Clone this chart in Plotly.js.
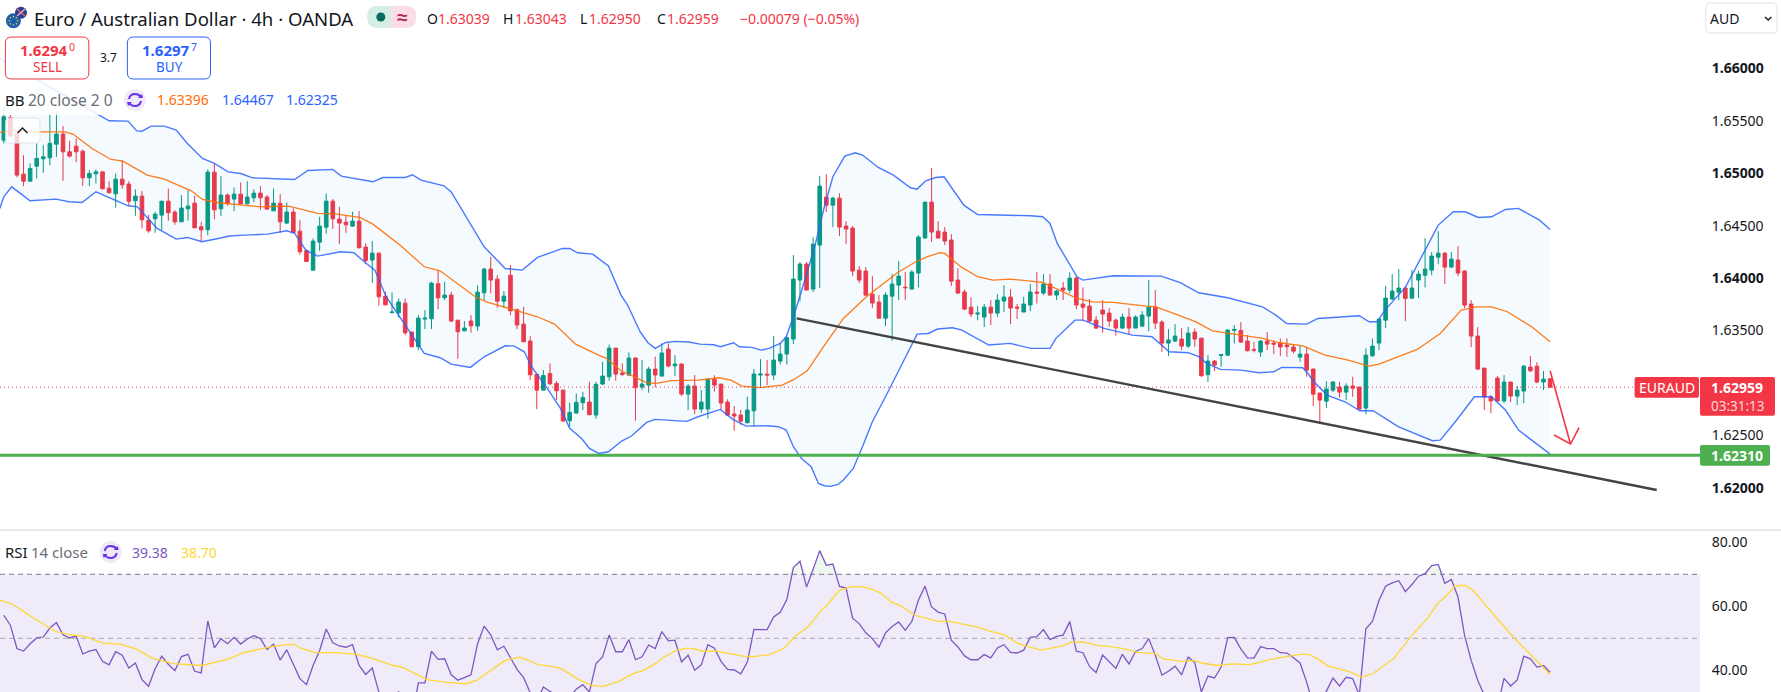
<!DOCTYPE html>
<html><head><meta charset="utf-8">
<script src="https://cdn.plot.ly/plotly-3.0.1.min.js"></script>
<style>html,body{margin:0;padding:0;background:#fff}#c{width:1781px;height:692px}</style>
</head><body><div id="c"></div>
<script>
// prices below are in 1e-5 units (165316 = 1.65316)
const opens=[165316,165533,165380,164992,164925,165068,165138,165148,165278,165374,
165205,165259,165211,164957,164995,165014,164858,164804,164944,164897,
164738,164782,164553,164566,164601,164734,164630,164537,164661,164715,
164490,164461,165011,164661,164792,164754,164801,164709,164766,164811,
164773,164642,164715,164525,164630,164448,164261,164076,164343,164486,
164734,164563,164534,164496,164544,164296,164172,164238,163828,163669,
163669,163761,163485,163345,163609,163612,163946,163812,163838,163599,
163497,163590,163542,163860,164086,163990,163780,164028,163698,163561,
163399,163081,162931,163090,162995,162931,162639,162712,162811,162817,162693,
162989,163059,163332,163094,163075,163237,162960,162979,163132,
163065,163323,163164,163180,162893,162970,162750,162750,163036,162989,
162817,162703,162693,162620,162734,163075,163084,163075,163208,163275,
163418,163981,164134,163895,164315,164773,164696,164763,164496,164477,
164076,164067,163847,163771,163618,163828,163933,163914,163895,164048,
164382,164725,164448,164439,164363,163981,163867,163723,163657,163628,
163723,163666,163781,163819,163723,163676,163743,163867,163857,163943,
163838,163905,163886,164000,163752,163733,163599,163695,163666,163599,
163523,163628,163523,163542,163638,163723,163580,163380,163399,163418,163351,163485,
163427,163078,163208,163262,163265,163501,163501,163399,
163319,163294,163399,163380,163380,163361,163342,163246,163275,163132,
162903,162826,162931,162960,162912,162970,162960,162760,163259,163380,
163599,163800,163866,163905,163809,163981,164028,164076,164200,164238,
164105,164172,164067,163752,163447,163141,162865,163046,162827,163008,
162874,162922,163151,163160,163008,163039];
const highs=[165634,165555,165380,165173,165094,165285,165269,165571,165593,165450,
165310,165332,165227,165030,165037,165014,164925,164998,165126,164925,
164846,164830,164601,164633,164734,164855,164649,164792,164839,164785,
164537,165037,165087,164973,164808,164865,164913,164925,164846,164878,
164792,164855,164801,164722,164665,164553,164273,164378,164585,164808,
164754,164680,164601,164633,164639,164331,164353,164245,163870,163863,
163806,163806,163488,163647,163695,163965,164070,163965,163870,163599,
163590,163647,163930,164098,164203,164028,163876,164124,163711,163726,
163447,163090,163122,163186,163017,162938,162811,162900,162916,163011,163011,
163202,163367,163332,163186,163291,163243,163218,163154,163250,
163377,163377,163265,163186,162989,163075,162932,163043,163072,162989,
162843,162779,162741,162868,163132,163227,163218,163447,163383,163440,
164220,164153,164153,164388,164973,164992,164776,164811,164544,164496,
164115,164105,164019,163838,163863,164038,164162,164060,164076,164410,
164725,165049,164544,164487,164420,164095,163892,163816,163733,163752,
163790,163847,163933,163895,163752,163822,163943,164057,164038,164038,
163886,163962,164054,164013,163911,163800,163638,163790,163714,163615,
163663,163714,163644,163685,163981,163886,163599,163514,163561,163523,163536,163520,
163427,163265,163218,163275,163510,163552,163580,163456,
163392,163408,163485,163408,163424,163424,163370,163358,163345,163138,
162906,163017,163017,163011,162995,163059,162963,163329,163424,163615,
163924,164038,164086,163924,164076,164070,164381,164248,164448,164248,
164248,164305,164076,163790,163532,163141,162884,163065,163074,163008,
162970,163170,163256,163198,163113,163043];
const lows=[165285,165342,164960,164878,164919,164951,165005,165078,165157,164928,
165151,165106,164878,164878,164903,164846,164808,164671,164852,164687,
164595,164474,164432,164432,164458,164547,164509,164534,164547,164474,
164346,164410,164563,164591,164690,164639,164703,164703,164725,164649,
164658,164639,164432,164515,164432,164222,164153,164076,164261,164426,
164470,164324,164432,164490,164283,164133,163955,163736,163739,163669,
163625,163456,163342,163313,163513,163513,163704,163790,163580,163230,
163491,163478,163497,163790,163854,163717,163717,163647,163513,163392,
163027,162750,162931,162979,162836,162629,162582,162709,162741,162693,162658,
162979,163021,163021,163065,163065,162639,162932,162906,162957,
163065,163148,163065,162874,162741,162703,162715,162658,162916,162747,
162684,162544,162598,162614,162582,162963,162979,163027,163176,163176,
163370,163777,163886,163867,163905,164630,164487,164401,164324,164019,
163952,163831,163714,163615,163542,163402,163790,163790,163892,163911,
164382,164344,164379,164315,163924,163847,163695,163628,163599,163533,
163552,163628,163676,163561,163609,163676,163685,163758,163838,163835,
163790,163790,163854,163704,163593,163580,163514,163479,163536,163450,
163514,163466,163523,163536,163494,163514,163294,163256,163390,163313,163332,163345,
163059,163008,163113,163154,163256,163377,163383,163300,
163291,163249,163313,163275,163256,163249,163281,163202,163059,162779,
162607,162760,162912,162861,162836,162868,162747,162702,163249,163313,
163523,163790,163790,163590,163800,163812,163911,164028,164133,163943,
164102,164019,163714,163342,163122,162741,162712,162823,162807,162817,
162788,162807,163103,162998,162931,162950];
const closes=[165539,165355,164983,164925,165046,165142,165157,165285,165374,165205,
165164,165205,164957,164998,165014,164852,164814,164944,164890,164734,
164782,164556,164451,164610,164734,164623,164537,164668,164687,164480,
164461,165011,164652,164792,164715,164801,164709,164773,164811,164766,
164658,164715,164537,164630,164436,164251,164159,164353,164496,164734,
164566,164525,164509,164544,164289,164168,164238,163822,163745,163676,
163771,163478,163345,163618,163618,163952,163812,163838,163590,163488,
163523,163545,163866,164086,163981,163780,163828,163688,163552,163392,
163078,162931,163071,162992,162925,162636,162718,162814,162861,162696,162986,
163065,163332,163084,163081,163237,162954,162989,163132,163075,
163285,163161,163180,162893,162970,162750,162817,163036,162979,162808,
162693,162684,162636,162741,163084,163084,163075,163218,163275,163431,
163991,164134,163886,164324,164878,164696,164763,164487,164468,164067,
163981,163838,163762,163618,163838,163943,164019,163908,164057,164391,
164725,164439,164382,164353,163971,163857,163704,163657,163666,163723,
163666,163790,163819,163714,163714,163752,163867,163857,163943,163838,
163876,163886,164000,163743,163723,163590,163523,163657,163590,163523,
163628,163523,163628,163647,163723,163571,163380,163409,163447,163351,163475,163418,
163068,163208,163170,163268,163504,163510,163389,163307,
163313,163399,163370,163370,163342,163345,163303,163275,163122,162893,
162836,162941,163008,162912,162970,162950,162750,163265,163351,163609,
163809,163876,163905,163806,163905,164038,164086,164210,164238,164105,
164181,164048,163742,163447,163132,162865,162827,162827,163008,162874,
162931,163160,163116,163008,163036,162959];

const upperBars=[-0.6,14,16,18.9,20.2,21,22.4,24.4,26.2,27.9,30.2,32,34.1,36,37.8,44.2,46.2,50,51.3,56.1,57.6,61,62.1,63.4,66.9,68,70.3,73,76.2,78.8,81.1,84.9,86,87.2,89.5,
91.9,93.8,94.8,96.7,97.9,99,100.6,102,104.1,105.8,107.9,108.9,110.9,111.8,113.7,115.1,116.3,118,118.9,120,121.2,123.3,124.7,126,127.8,129.4,130.5,132.9,135.2,137.8,138.8,140.1,141.6,142.9,144.5,145.9,148,151.5,156.1,157.9,159,160.1,161.8,163.1,164,168.6,175.9,178.8,181.6,
186,191.3,193.3,195,198,199.7,206,207.5,208.7,209.9,213,216,218,220.3,222.1,224.1,226.1,228.2,230.2,233.4,235];
const upperPrices=[166096,165571,165501,165498,165405,165402,165450,165450,165412,165285,165142,165094,165014,164998,164957,164941,165027,165037,164973,164919,164960,164960,164986,164935,164881,164823,164585,164299,164092,164076,164197,164283,164283,164242,164229,
164115,163838,163743,163488,163383,163329,163386,163396,163390,163370,163364,163345,163383,163345,163339,163313,163329,163377,163440,163631,163870,164315,164681,164967,165164,165196,165174,165056,164983,164862,164849,164929,164960,164967,164824,164696,164607,164604,164595,164585,164522,164331,164156,164013,163981,164022,164019,163956,163860,
163812,163726,163647,163567,163561,163615,163641,163583,163583,163695,163911,164267,164506,164633,164633,164579,164585,164655,164665,164553,164464];
const middleBars=[-0.6,1.2,5.2,9.3,10.5,13.4,16.3,18.1,21.8,24.4,28.5,30.2,32.6,34.9,39,43.3,47.7,50.6,54.1,56.1,60.2,63.9,66.3,71.8,73.6,77.3,81.1,83.7,86.9,90.4,
91.6,93.8,96.2,97.7,99.1,101.5,105.5,108.7,110.5,112.2,114.8,118.3,120.1,122.1,124.4,127.6,131.1,135.8,138.6,140.4,142.2,143,145.6,148,150.3,152.9,157.9,163.1,165.5,168.6,173.6,175,178.2,181.1,
183.7,186.3,191.3,193.9,197.4,200.8,204.3,207.5,209,214.8,218.3,221.5,223.8,226.1,228.5,232.2,235];
const middlePrices=[165390,165405,165396,165396,165374,165237,165132,165116,164983,164944,164833,164750,164719,164703,164680,164687,164617,164610,164579,164515,164315,164108,164070,163815,163768,163701,163631,163561,163370,163265,
163234,163116,163043,163002,162995,163021,163027,163049,163027,162970,162954,162979,163033,163116,163329,163615,163822,164051,164156,164204,164242,164235,164102,164013,163981,163991,163959,163806,163774,163768,163733,163727,163653,163584,
163497,163472,163424,163383,163354,163265,163218,163160,163179,163319,163472,163695,163726,163726,163679,163536,163393];
const lowerBars=[-0.6,0,1.2,4,7.9,9.9,11.9,14,18.9,20.3,23.3,26.2,27.9,30.1,32.6,34.3,36.6,40.1,43,44.2,45.9,47.7,51.2,53.2,55.1,56.4,58.1,61.3,63.9,66.3,68,70.9,73,76.2,77.6,79.1,80.2,82.6,84.6,86,87.8,89,90.4,
91.9,93.9,95.4,97.7,99,101.5,103.8,105.5,108.9,110.8,112.8,116,117.7,118.9,120,121.2,122.7,123.8,124.7,125.6,126.8,127.6,129.1,130.5,132,134,136.3,138.8,140.5,141.9,144.2,145.6,149.7,152.9,156.1,159,159.9,162.8,164,167.2,171.5,174.5,177.1,180,181.6,
182.8,184.9,188,190.7,193,194.2,197.4,198.2,199.1,201.1,203.8,206.1,208.1,211.9,217.1,218.3,220.6,223.5,226.1,228.2,230.2,232.2,235];
const lowerPrices=[164664,164776,164871,164738,164754,164728,164722,164824,164690,164680,164474,164372,164388,164347,164378,164401,164410,164420,164451,164426,164267,164210,164251,164242,164140,164076,163822,163520,163281,163240,163179,163148,163249,163354,163351,163297,163154,162947,162757,162566,162470,162375,162327,
162343,162445,162493,162623,162652,162639,162633,162677,162747,162652,162588,162591,162582,162550,162391,162280,162200,162041,162019,162013,162032,162073,162184,162391,162630,162868,163154,163466,163472,163514,163526,163504,163361,163377,163329,163329,163425,163599,163599,163520,163456,163440,163297,163288,163250,
163186,163129,163122,163097,163106,163148,163145,163090,163011,162884,162820,162734,162734,162582,162448,162454,162629,162868,162868,162741,162550,162454,162320];
const rsiValues=[57.2,54.1,46.8,46.0,48.3,50.1,50.4,53.2,54.9,51.1,50.1,50.7,45.1,46.0,46.5,42.8,41.7,45.8,44.7,40.7,
42.3,37.1,35.0,40.5,44.4,41.9,39.9,44.3,45.0,39.7,39.2,55.4,47.0,49.9,48.3,50.3,48.2,49.8,50.8,49.9,
46.5,48.2,43.2,46.4,41.9,37.4,35.5,41.5,46.2,52.9,48.6,47.6,47.2,48.0,41.5,38.7,40.7,33.2,31.1,30.1,
33.4,28.0,24.9,36.1,36.1,46.0,43.4,43.6,38.6,36.9,37.7,38.6,48.3,53.8,51.1,46.4,47.5,43.8,40.3,37.7,
33.0,30.1,34.8,33.4,32.2,31.1,31.6,34.1,35.5,33.2,42.1,44.2,51.0,45.8,45.8,49.6,43.3,44.2,47.9,46.8,
52.1,49.2,49.4,42.6,44.7,40.0,41.7,48.0,46.9,42.8,40.3,40.1,38.9,42.6,52.8,52.8,52.7,56.7,58.1,62.1,
72.1,74.1,66.0,71.6,77.4,72.8,73.2,66.2,65.7,56.3,54.6,51.7,49.9,47.2,51.7,53.7,55.1,52.5,55.3,61.9,
66.3,59.8,58.2,57.6,49.4,47.3,44.5,43.3,43.3,44.9,43.9,47.0,48.0,45.6,45.4,46.3,50.3,50.5,52.7,49.6,
50.6,51.0,55.2,46.0,45.5,41.2,39.3,44.8,42.8,40.6,45.0,42.0,45.9,46.8,49.9,44.7,38.5,39.7,41.3,38.6,
44.1,42.4,33.2,38.2,37.6,41.0,50.2,50.3,46.7,43.9,43.8,47.4,46.8,46.8,45.5,45.4,43.9,42.3,36.3,29.1,
28.0,33.5,37.6,35.1,37.8,37.4,32.2,53.0,55.3,61.9,66.3,67.3,68.0,64.6,66.8,69.4,70.2,72.7,73.1,67.2,
68.4,62.9,50.9,43.1,36.9,32.2,30.1,28.5,37.5,35.1,37.0,44.4,43.6,41.0,41.5,39.38];
const rsiMaBars=[-0.6,1.2,3,4.7,7.8,10.1,12.3,15.1,17.7,20.2,22.5,25.8,30.1,31.8,34.1,36.4,41.5,44,45,47.3,50.6,53.6,55.9,59.2,60.7,64.3,67.3,70.3,71.9,76.2,78.4,
80,81.2,83.8,85,87.1,89.3,91.1,93.6,95.4,97.2,99.2,100.2,102.2,103.8,104.8,106.3,108.1,109.4,111.1,112.4,113.9,116.2,118.5,120.3,122.3,124,125.3,127,128.6,130.1,131.6,133.2,134.9,136.2,138.5,142,143.8,148.6,149.9,151.9,154.2,157.5,
159.2,161,162.3,164,166.3,168.1,170.4,172.2,175,176.2,179,180.8,182.3,184.3,186.8,189.4,192.9,195.2,197,198.3,199.5,201.3,203.3,204.6,206.4,208.1,211.2,214,216.2,218,219.3,220.5,222,223.3,225.3,228,229.4,235];
const rsiMaValues=[61.9,60.8,58.4,56.1,52.2,51.1,50.6,48.5,48.2,46.6,43.8,42.1,41.5,42.3,43.5,45.5,47.7,48.2,47,45.5,45.5,45,43.8,41.5,40.8,37.1,36.2,35.8,36.9,43.1,44.1,
42.9,41.8,41.1,40.2,37.4,35.3,35,36.7,38.7,40,42.3,44,46.2,46.9,46.8,45.9,46.1,45.6,45.1,44.4,44.3,44.8,46.8,50.7,53.7,58.2,60.8,65,66,66.2,65.5,64.3,61.3,60.3,57.2,55.3,55.3,53.2,52.2,51.2,48.3,46.3,
46.9,47.7,48.8,48.9,47.7,47.5,46.7,45.6,45.2,43.6,42.8,43,42.2,41.5,42,41.8,43.6,44.3,45,45,43.8,41.3,40.1,39.5,37.9,39,43.6,50.9,55.9,61.1,63.4,66.3,66.6,65,60.1,53.5,50.4,38.7];
const trendBars=[120.5,251.2], trendPrices=[1.63616,1.61978];
const arrowBars=[235,238.1,null,235.6,238.1,239.4], arrowPrices=[1.63116,1.62417,null,1.62503,1.62417,1.62573];
const supportPrice=1.6231, lastPrice=1.62959;
const priceTicks=[1.66,1.655,1.65,1.645,1.64,1.635,1.625,1.62];
const priceTickText=['<b>1.66000</b>','1.65500','<b>1.65000</b>','1.64500','<b>1.64000</b>','1.63500','1.62500','<b>1.62000</b>'];
const rsiTicks=[80,60,40], rsiTickText=['80.00','60.00','40.00'];

const W=1781,H=692,F='"Noto Sans",sans-serif';
const xRange=[-0.5775,257.78];
const px=v=>v/1e5, bars=opens.map((_,i)=>i);
const fx=x=>x/W, fy=y=>1-y/H;
const pt=(x,y)=>fx(x).toFixed(5)+','+fy(y).toFixed(5);
const rr=(x0,y0,x1,y1,r)=>`M${pt(x0+r,y0)}L${pt(x1-r,y0)}Q${pt(x1,y0)} ${pt(x1,y0+r)}L${pt(x1,y1-r)}Q${pt(x1,y1)} ${pt(x1-r,y1)}L${pt(x0+r,y1)}Q${pt(x0,y1)} ${pt(x0,y1-r)}L${pt(x0,y0+r)}Q${pt(x0,y0)} ${pt(x0+r,y0)}Z`;
const box=(x0,y0,x1,y1,r,fill,line,lw)=>({type:'path',xref:'paper',yref:'paper',path:rr(x0,y0,x1,y1,r),fillcolor:fill,line:{color:line||'rgba(0,0,0,0)',width:lw===undefined?1:lw}});
const disc=(cx,cy,rad,fill)=>({type:'circle',xref:'paper',yref:'paper',x0:fx(cx-rad),x1:fx(cx+rad),y0:fy(cy+rad),y1:fy(cy-rad),fillcolor:fill,line:{width:0}});
const stroke=(d,color,w)=>({type:'path',xref:'paper',yref:'paper',path:d,line:{color:color,width:w},fillcolor:'rgba(0,0,0,0)'});
const refreshIcon=(cx,cy)=>[disc(cx,cy,11,'#efeaf8'),
 stroke(`M${pt(cx-6,cy-1)}Q${pt(cx-5,cy-6)} ${pt(cx,cy-6)}Q${pt(cx+4,cy-6)} ${pt(cx+6,cy-3)}`,'#6a2ff0',2),
 stroke(`M${pt(cx+6,cy+1)}Q${pt(cx+5,cy+6)} ${pt(cx,cy+6)}Q${pt(cx-4,cy+6)} ${pt(cx-6,cy+3)}`,'#6a2ff0',2),
 {type:'path',xref:'paper',yref:'paper',path:`M${pt(cx+8,cy-2)}L${pt(cx+3,cy-2)}L${pt(cx+7,cy-6)}Z`,fillcolor:'#6a2ff0',line:{width:0}},
 {type:'path',xref:'paper',yref:'paper',path:`M${pt(cx-8,cy+2)}L${pt(cx-3,cy+2)}L${pt(cx-7,cy+6)}Z`,fillcolor:'#6a2ff0',line:{width:0}}];
const T=(x,y,text,color,size,anchor)=>({xref:'paper',yref:'paper',x:fx(x),y:fy(y),text:text,showarrow:false,xanchor:anchor||'left',yanchor:'middle',font:{family:F,size:size||14,color:color||'#131722'},borderpad:0,borderwidth:0});

const traces=[
 {type:'candlestick',x:bars,open:opens.map(px),high:highs.map(px),low:lows.map(px),close:closes.map(px),xaxis:'x',yaxis:'y',whiskerwidth:0,
  increasing:{line:{color:'#089981',width:1},fillcolor:'#089981'},decreasing:{line:{color:'#f23645',width:1},fillcolor:'#f23645'},hoverinfo:'skip'},
 {type:'scatter',mode:'lines',x:upperBars.concat(lowerBars.slice().reverse()),y:upperPrices.concat(lowerPrices.slice().reverse()).map(px),fill:'toself',fillcolor:'rgba(33,150,243,0.05)',line:{width:0},yaxis:'y',hoverinfo:'skip'},
 {type:'scatter',mode:'lines',x:upperBars,y:upperPrices.map(px),line:{color:'#2962ff',width:1.4},yaxis:'y',opacity:.85},
 {type:'scatter',mode:'lines',x:lowerBars,y:lowerPrices.map(px),line:{color:'#2962ff',width:1.4},yaxis:'y',opacity:.85},
 {type:'scatter',mode:'lines',x:middleBars,y:middlePrices.map(px),line:{color:'#ff6d00',width:1.3},yaxis:'y',opacity:.9},
 {type:'scatter',mode:'lines',x:xRange,y:[lastPrice,lastPrice],line:{color:'#f23645',width:1,dash:'1px,3px'},yaxis:'y'},
 {type:'scatter',mode:'lines',x:trendBars,y:trendPrices,line:{color:'#434343',width:2.4},yaxis:'y'},
 {type:'scatter',mode:'lines',x:xRange,y:[supportPrice,supportPrice],line:{color:'#4caf50',width:3},yaxis:'y'},
 {type:'scatter',mode:'lines',x:arrowBars,y:arrowPrices,line:{color:'#f23645',width:1.6},yaxis:'y'},
 {type:'scatter',mode:'lines',x:bars,y:bars.map(()=>70),line:{width:0},yaxis:'y2'},
 {type:'scatter',mode:'lines',x:bars,y:rsiValues.map(v=>Math.max(v,70)),fill:'tonexty',fillcolor:'rgba(76,175,80,0.1)',line:{width:0},yaxis:'y2'},
 {type:'scatter',mode:'lines',x:bars,y:rsiValues,line:{color:'#7e57c2',width:1.3},yaxis:'y2'},
 {type:'scatter',mode:'lines',x:rsiMaBars,y:rsiMaValues,line:{color:'#fdd835',width:1.3},yaxis:'y2'}
];

const shapes=[
 {type:'rect',xref:'x',yref:'y2',x0:xRange[0],x1:xRange[1],y0:30,y1:70,fillcolor:'rgba(126,87,194,0.12)',line:{width:0},layer:'below'},
 {type:'line',xref:'x',yref:'y2',x0:xRange[0],x1:xRange[1],y0:70,y1:70,line:{color:'#787b86',width:1,dash:'5px,4px'},layer:'below'},
 {type:'line',xref:'x',yref:'y2',x0:xRange[0],x1:xRange[1],y0:50,y1:50,line:{color:'rgba(120,123,134,.6)',width:1,dash:'5px,4px'},layer:'below'},
 {type:'rect',xref:'paper',yref:'paper',x0:0,x1:fx(345),y0:fy(115),y1:1,fillcolor:'rgba(255,255,255,.85)',line:{width:0}},
 {type:'line',xref:'paper',yref:'paper',x0:0,x1:1,y0:fy(530),y1:fy(530),line:{color:'#e6e8ee',width:2}},
 box(5.7,118,40,143,4,'rgba(255,255,255,.78)','#e0e3eb',1),
 stroke(`M${pt(17.5,133)}L${pt(22.5,128)}L${pt(27.5,133)}`,'#131722',1.4),
 disc(13.4,20.7,7.5,'#1f5fb0'),disc(21,12.7,6,'#2a3f8f'),
 {type:'path',xref:'paper',yref:'paper',path:`M${pt(17,9)}L${pt(25,16)}`,line:{color:'#e8596f',width:1.6}},
 {type:'path',xref:'paper',yref:'paper',path:`M${pt(25,9)}L${pt(17,16)}`,line:{color:'#f3b9c4',width:1.2}},
 disc(13.4,16.5,.8,'#f7d21e'),disc(17.5,20.7,.8,'#f7d21e'),disc(13.4,25,.8,'#f7d21e'),disc(9.3,20.7,.8,'#f7d21e'),disc(16.4,17.8,.8,'#f7d21e'),disc(16.4,23.7,.8,'#f7d21e'),disc(10.4,23.7,.8,'#f7d21e'),disc(10.4,17.8,.8,'#f7d21e'),
 box(367.4,6,416.4,27.7,10,'#fbdde6'),
 {type:'path',xref:'paper',yref:'paper',path:`M${pt(378,6)}L${pt(391,6)}L${pt(391,27.7)}L${pt(378,27.7)}Q${pt(367.4,27.7)} ${pt(367.4,17)}Q${pt(367.4,6)} ${pt(378,6)}Z`,fillcolor:'#d4eee6',line:{width:0}},
 disc(380.8,17,4.5,'#0a6b5a'),
 box(5.4,37,88.8,79,6,'rgba(255,255,255,.9)','#f23645',1),
 box(127.4,37,210.5,79,6,'rgba(255,255,255,.9)','#2962ff',1),
 box(1705.7,3,1777,33,5,'#ffffff','#e0e3eb',1),
 stroke(`M${pt(1765,17)}L${pt(1768.2,20)}L${pt(1771.4,17)}`,'#131722',1.4),
 box(1634.6,377,1699,397.7,2,'#f23645'),
 box(1700,377,1775,415.7,2,'#f23645'),
 box(1700,445,1770,465.7,2,'#4caf50'),
 ...refreshIcon(135,100),
 ...refreshIcon(110.7,552)
];

const annotations=[
 T(33.5,18,'Euro / Australian Dollar · 4h · OANDA','#131722',18.6),
 T(402.5,17,'<b>≈</b>','#b2285f',19,'center'),
 T(427,18,'O','#131722',14),T(437.5,18,'1.63039','#f23645',14),
 T(503,18,'H','#131722',14),T(514.5,18,'1.63043','#f23645',14),
 T(580,18,'L','#131722',14),T(589,18,'1.62950','#f23645',14),
 T(657,18,'C','#131722',14),T(667,18,'1.62959','#f23645',14),
 T(740,18,'−0.00079 (−0.05%)','#f23645',14),
 T(20,49.5,'<b>1.6294</b>','#f23645',15),T(69,46.5,'0','#f23645',10.5),T(47,67,'SELL','#f23645',13.5,'center'),
 T(108.6,58,'3.7','#131722',12,'center'),
 T(142,49.5,'<b>1.6297</b>','#2962ff',15),T(191,46.5,'7','#2962ff',10.5),T(169,67,'BUY','#2962ff',13.5,'center'),
 T(5,100,'BB','#131722',15),T(28,100,'20 close 2 0','#6a6d78',15.5),
 T(157,100,'1.63396','#ff6d00',14),T(222,100,'1.64467','#2962ff',14),T(286,100,'1.62325','#2962ff',14),
 T(5,552,'RSI','#131722',15),T(31,552,'14 close','#6a6d78',15),
 T(132,552,'39.38','#7e57c2',14),T(180.5,552,'38.70','#fdd835',14),
 T(1710,18,'AUD','#131722',14),
 T(1667,387.3,'EURAUD','#ffffff',14,'center'),
 T(1711,387,'<b>1.62959</b>','#ffffff',14),T(1711,406,'03:31:13','#ffd6da',13.5),
 T(1711,455.5,'<b>1.62310</b>','#ffffff',14)
];

const layout={width:W,height:H,margin:{l:0,r:0,t:0,b:0},paper_bgcolor:'#fff',plot_bgcolor:'#fff',showlegend:false,hovermode:false,boxgap:0.22,
 font:{family:F,size:14,color:'#131722'},
 xaxis:{domain:[0,1700/W],range:xRange,visible:false,rangeslider:{visible:false},fixedrange:true,anchor:'y'},
 yaxis:{domain:[1-530/H,1],range:[1.615964,1.666536],side:'right',tickvals:priceTicks,ticktext:priceTickText,ticks:'outside',ticklen:8,tickcolor:'rgba(0,0,0,0)',showgrid:false,zeroline:false,showline:false,anchor:'x',tickfont:{family:F,size:14,color:'#131722'}},
 yaxis2:{domain:[0,1-531/H],range:[33.22,83.53],side:'right',tickvals:rsiTicks,ticktext:rsiTickText,ticks:'outside',ticklen:8,tickcolor:'rgba(0,0,0,0)',showgrid:false,zeroline:false,showline:false,anchor:'x',tickfont:{family:F,size:14,color:'#131722'}},
 shapes:shapes,annotations:annotations};
Plotly.newPlot('c',traces,layout,{displayModeBar:false,staticPlot:true,responsive:false});
</script></body></html>
